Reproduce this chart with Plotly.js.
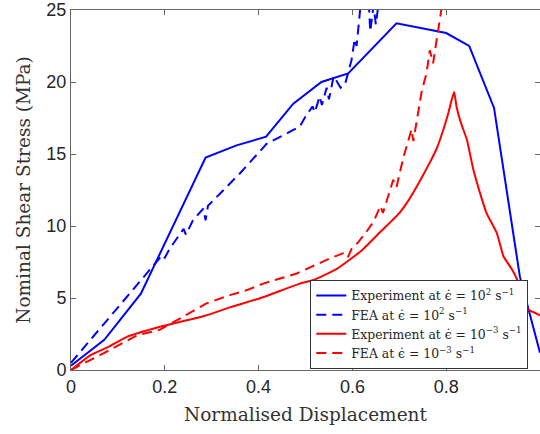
<!DOCTYPE html>
<html>
<head>
<meta charset="utf-8">
<script src="https://cdn.plot.ly/plotly-3.0.1.min.js"></script>
<style>html,body{margin:0;padding:0;background:#fff;}#chart{width:540px;height:434px;}</style>
</head>
<body>
<div id="chart"></div>
<script>
// Experiment at 10^2 s^-1
const expHighX = [0, 0.071, 0.149, 0.287, 0.353, 0.416, 0.474, 0.534, 0.591, 0.694, 0.80, 0.849, 0.902, 0.957, 1.0];
const expHighY = [0.3, 2.1, 5.3, 14.75, 15.6, 16.2, 18.5, 20.0, 20.6, 24.07, 23.4, 22.5, 18.2, 6.5, 1.2];

// FEA at 10^2 s^-1
const feaHighX = [0.0, 0.165, 0.195, 0.2, 0.21, 0.24, 0.245, 0.26, 0.282, 0.287, 0.292, 0.36, 0.417, 0.47, 0.488, 0.50, 0.515, 0.52, 0.53, 0.535, 0.545, 0.55, 0.56, 0.575, 0.584, 0.598, 0.605, 0.609, 0.617, 0.625, 0.635, 0.638, 0.645, 0.65, 0.655, 0.66];
const feaHighY = [0.5, 6.8, 8.0, 7.8, 8.4, 9.8, 9.4, 10.4, 11.2, 10.4, 11.4, 13.65, 15.7, 16.6, 16.9, 17.6, 18.3, 17.9, 19.0, 18.4, 19.6, 18.8, 20.4, 19.6, 19.8, 21.5, 23.0, 22.5, 25.2, 26.0, 25.5, 23.5, 25.3, 24.0, 25.5, 26.5];

// Experiment at 10^-3 s^-1
const expLowX = [0, 0.04, 0.08, 0.119, 0.19, 0.286, 0.339, 0.403, 0.488, 0.517, 0.566, 0.62, 0.66, 0.70, 0.72, 0.74, 0.765, 0.78, 0.794, 0.805, 0.812, 0.817, 0.822, 0.83, 0.844, 0.858, 0.872, 0.886, 0.908, 0.922, 0.94, 0.955, 0.965, 0.975, 1.0];
const expLowY = [0, 1.0, 1.6, 2.3, 3.0, 3.77, 4.35, 4.98, 6.0, 6.25, 7.0, 8.3, 9.6, 10.9, 11.8, 12.9, 14.4, 15.4, 16.7, 17.9, 18.8, 19.3, 18.3, 17.3, 16.0, 13.9, 12.3, 10.9, 9.5, 7.9, 7.0, 6.0, 4.6, 4.2, 3.8];

// FEA at 10^-3 s^-1
const feaLowX = [0, 0.069, 0.14, 0.19, 0.289, 0.339, 0.375, 0.41, 0.481, 0.552, 0.58, 0.59, 0.598, 0.613, 0.63, 0.645, 0.66, 0.665, 0.687, 0.694, 0.709, 0.726, 0.73, 0.74, 0.748, 0.758, 0.765, 0.772, 0.78, 0.785, 0.79, 0.80];
const feaLowY = [0, 1.15, 2.4, 2.8, 4.63, 5.2, 5.55, 6.0, 6.7, 7.75, 8.1, 7.8, 8.4, 8.9, 9.6, 10.3, 11.4, 10.9, 13.2, 12.7, 14.8, 16.7, 15.9, 17.8, 19.4, 20.6, 22.2, 21.3, 22.9, 23.8, 25.1, 26.5];

const seriesNames = [
  'Experiment at ϵ̇ = 10<sup>2</sup> s<sup>−1</sup>',
  'FEA at ϵ̇ = 10<sup>2</sup> s<sup>−1</sup>',
  'Experiment at ϵ̇ = 10<sup>−3</sup> s<sup>−1</sup>',
  'FEA at ϵ̇ = 10<sup>−3</sup> s<sup>−1</sup>'
];
const xTicks = [0, 0.2, 0.4, 0.6, 0.8, 1];
const xTickText = ['0', '0.2', '0.4', '0.6', '0.8', '1'];
const yTicks = [0, 5, 10, 15, 20, 25];

const dash = '10px,6px';
const traces = [
  {x: expHighX, y: expHighY, name: seriesNames[0], mode: 'lines', line: {color: '#0000ff', width: 2}},
  {x: feaHighX, y: feaHighY, name: seriesNames[1], mode: 'lines', line: {color: '#0000ff', width: 2, dash: dash}},
  {x: expLowX, y: expLowY, name: seriesNames[2], mode: 'lines', line: {color: '#ff0000', width: 2, shape: 'spline', smoothing: 0.4}},
  {x: feaLowX, y: feaLowY, name: seriesNames[3], mode: 'lines', line: {color: '#ff0000', width: 2, dash: dash}}
];

const axisCommon = {
  showgrid: false, zeroline: false, showline: true, linecolor: '#666', linewidth: 1,
  mirror: 'ticks', ticks: 'inside', ticklen: 5, tickcolor: '#666',
  tickfont: {family: 'Liberation Sans, Arial, sans-serif', size: 18, color: '#262626'}
};

const layout = {
  width: 540, height: 434,
  margin: {l: 71, r: 0, t: 10, b: 64},
  paper_bgcolor: '#fff', plot_bgcolor: '#fff',
  showlegend: true,
  xaxis: Object.assign({}, axisCommon, {
    range: [0, 1], tickvals: xTicks, ticktext: xTickText,
    title: {text: 'Normalised Displacement', font: {family: 'DejaVu Serif, serif', size: 18.5, color: '#333'}, standoff: 12}
  }),
  yaxis: Object.assign({}, axisCommon, {
    range: [0, 25], tickvals: yTicks,
    title: {text: 'Nominal Shear Stress (MPa)', font: {family: 'DejaVu Serif, serif', size: 18.5, color: '#333'}, standoff: 10}
  }),
  legend: {
    x: 0.975, xanchor: 'right', y: 0.25, yanchor: 'top',
    bgcolor: '#fff', bordercolor: '#333', borderwidth: 1,
    font: {family: 'DejaVu Serif, serif', size: 12.4, color: '#262626'},
    tracegroupgap: 0
  }
};

Plotly.newPlot('chart', traces, layout, {displayModeBar: false, staticPlot: true});
</script>
</body>
</html>
